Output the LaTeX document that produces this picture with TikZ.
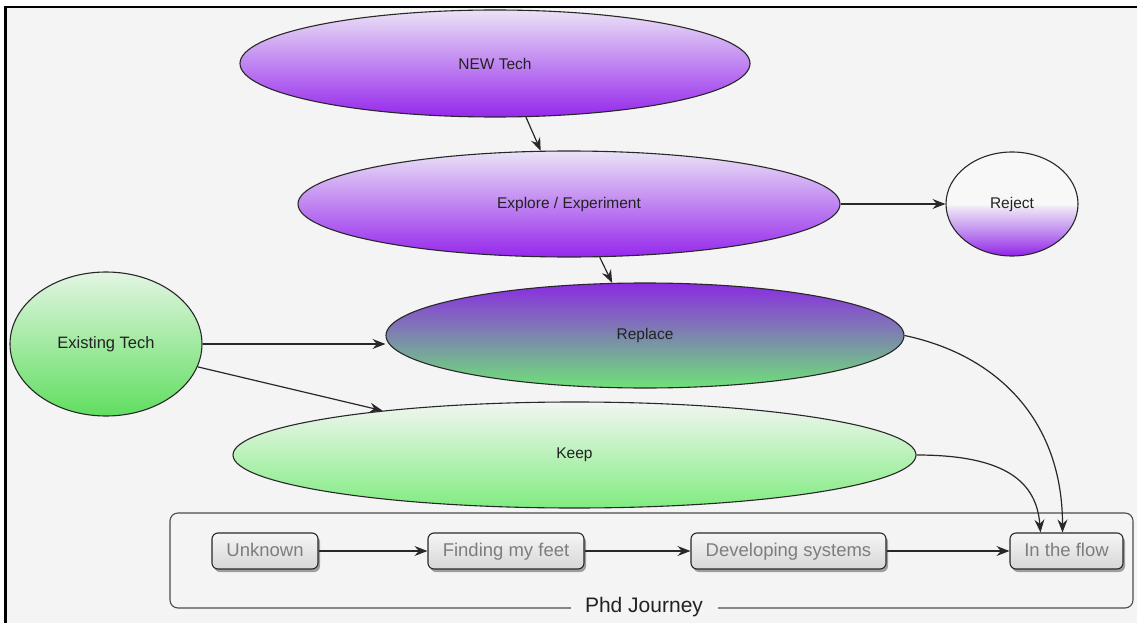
\documentclass[tikz,border=0pt]{standalone}
\usepackage{fontspec}
\setmainfont{Liberation Sans}
\usetikzlibrary{arrows.meta,shadows,shapes.geometric}
\definecolor{bg}{RGB}{244,244,244}
\definecolor{edgecol}{RGB}{40,40,40}
\definecolor{txt}{RGB}{34,34,34}
\definecolor{boxtxt}{RGB}{125,125,125}
\definecolor{lavtop}{RGB}{234,226,246}
\definecolor{purbot}{RGB}{150,40,236}
\definecolor{reppur}{RGB}{138,43,226}
\definecolor{repgrn}{RGB}{110,226,120}
\definecolor{grntop}{RGB}{226,245,226}
\definecolor{grnbot}{RGB}{96,222,96}
\definecolor{keeptop}{RGB}{242,246,242}
\definecolor{keepbot}{RGB}{128,236,128}
\definecolor{rpurple}{RGB}{146,36,232}
\definecolor{rmid}{RGB}{196,150,240}
\definecolor{rlight}{RGB}{236,226,246}
\definecolor{rwhite}{RGB}{248,248,248}
\definecolor{boxtop}{RGB}{246,246,246}
\definecolor{boxbot}{RGB}{214,214,214}
\pgfdeclareverticalshading{rejshade}{100bp}{color(0bp)=(rpurple); color(25bp)=(rpurple); color(38bp)=(rmid); color(48bp)=(rlight); color(50bp)=(rwhite); color(100bp)=(rwhite)}
\tikzset{
  oval/.style={ellipse, draw=edgecol, line width=1.1pt, inner sep=0pt, text=txt, font=\fontsize{15.5}{18}\selectfont},
  stagebox/.style={rectangle, rounded corners=6pt, draw=edgecol, line width=1.1pt, top color=boxtop, bottom color=boxbot, text=boxtxt, minimum height=36pt, inner sep=0pt, text height=13.5pt, text depth=3.5pt, font=\fontsize{18.5}{22}\selectfont, drop shadow={shadow xshift=2pt, shadow yshift=-3pt, opacity=0.35, fill=black}},
  conn/.style={draw=edgecol, line width=1.2pt, -{Stealth[length=13pt,width=10pt,inset=4.5pt]}},
}
\begin{document}
\begin{tikzpicture}[x=1pt,y=-1pt]
\useasboundingbox (0,0) rectangle (1137,623);
\fill[white] (0,0) rectangle (1137,623);
\fill[bg] (5,7) rectangle (1137,623);
\draw[black, line width=2.5pt] (4,7) -- (1137,7);
\draw[black, line width=2.5pt] (5.5,6) -- (5.5,623);

% ellipses
\node[oval, minimum width=510pt, minimum height=107pt, top color=lavtop, bottom color=purbot] (new) at (495,63.5) {NEW Tech};
\node[oval, minimum width=542pt, minimum height=106pt, top color=lavtop, bottom color=purbot] (exp) at (569,204) {Explore / Experiment};
\node[oval, minimum width=132pt, minimum height=104pt, shading=rejshade] (rej) at (1012,204) {Reject};
\node[oval, minimum width=518pt, minimum height=105pt, top color=reppur, bottom color=repgrn] (rep) at (645,335.5) {Replace};
\node[oval, minimum width=192pt, minimum height=144pt, top color=grntop, bottom color=grnbot, font=\fontsize{16.5}{19}\selectfont] (ext) at (106,344) {Existing Tech};
\node[oval, minimum width=683pt, minimum height=106pt, top color=keeptop, bottom color=keepbot] (keep) at (574.5,455) {Keep};

% journey row
\node[stagebox, minimum width=106pt] (unk) at (265,551) {Unknown};
\node[stagebox, minimum width=156pt] (feet) at (506,551) {Finding my feet};
\node[stagebox, minimum width=195pt] (dev) at (788.5,551) {Developing systems};
\node[stagebox, minimum width=113pt] (flow) at (1066.5,551) {In the flow};

\node[text=txt, inner sep=0pt, font=\fontsize{21}{24}\selectfont] (journey) at (644,607) {Phd Journey};
\draw[draw=black!70, line width=1.1pt, rounded corners=8pt]
  ([xshift=-14pt]journey.west |- 0,608) -- (170,608) -- (170,513) -- (1133,513) -- (1133,608) -- ([xshift=15pt]journey.east |- 0,608);

% connectors
\draw[conn] (new.-60.7) -- (exp.118.7);
\draw[conn] (exp.east) -- (rej.west);
\draw[conn] (exp.-60.9) -- (rep.122.2);
\draw[conn] (ext.east) -- (ext.east -| rep.west);
\draw[conn] (ext.-14) -- (keep.167);
\draw[conn] (rep.east) .. controls +(95,20) and +(0,-110) .. ([xshift=-4pt]flow.north);
\draw[conn] (keep.east) .. controls +(90,0) and +(-4,-50) .. ([xshift=-26pt]flow.north);
\draw[conn] (unk.east) -- (feet.west);
\draw[conn] (feet.east) -- (dev.west);
\draw[conn] (dev.east) -- (flow.west);
\end{tikzpicture}
\end{document}
